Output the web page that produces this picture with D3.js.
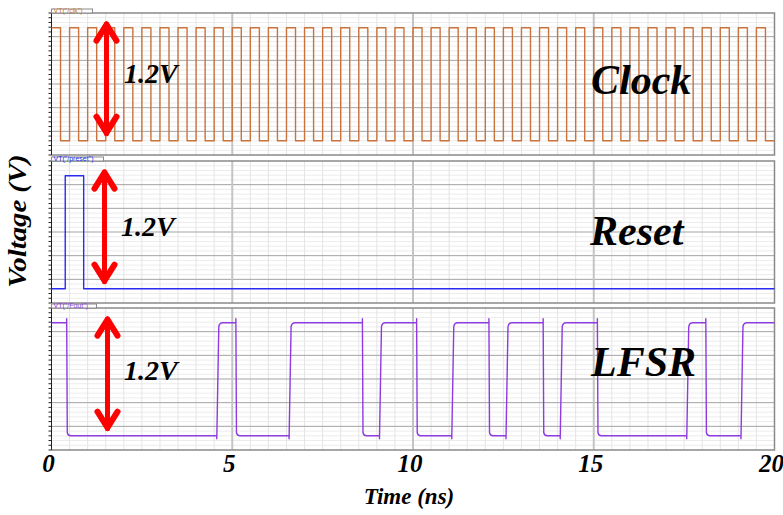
<!DOCTYPE html>
<html>
<head>
<meta charset="utf-8">
<script src="https://cdn.jsdelivr.net/npm/d3@7"></script>
<style>
  html, body { margin: 0; padding: 0; background: #fff; }
  svg { display: block; }
</style>
</head>
<body>
<svg id="chart" width="783" height="515"></svg>
<script>
// ---- data ----
const timeTicks = [0, 5, 10, 15, 20];
const timeDomain = [0, 20];

// clock: step points (ns, V) — 0.5 ns period, 40 cycles
const clockTimes = [0, 0.25, 0.5, 0.75, 1, 1.25, 1.5, 1.75, 2, 2.25, 2.5, 2.75, 3, 3.25, 3.5, 3.75,
  4, 4.25, 4.5, 4.75, 5, 5.25, 5.5, 5.75, 6, 6.25, 6.5, 6.75, 7, 7.25, 7.5, 7.75,
  8, 8.25, 8.5, 8.75, 9, 9.25, 9.5, 9.75, 10, 10.25, 10.5, 10.75, 11, 11.25, 11.5, 11.75,
  12, 12.25, 12.5, 12.75, 13, 13.25, 13.5, 13.75, 14, 14.25, 14.5, 14.75, 15, 15.25, 15.5, 15.75,
  16, 16.25, 16.5, 16.75, 17, 17.25, 17.5, 17.75, 18, 18.25, 18.5, 18.75, 19, 19.25, 19.5, 19.75, 20];
const clockVolts = [1.2, 0, 1.2, 0, 1.2, 0, 1.2, 0, 1.2, 0, 1.2, 0, 1.2, 0, 1.2, 0,
  1.2, 0, 1.2, 0, 1.2, 0, 1.2, 0, 1.2, 0, 1.2, 0, 1.2, 0, 1.2, 0,
  1.2, 0, 1.2, 0, 1.2, 0, 1.2, 0, 1.2, 0, 1.2, 0, 1.2, 0, 1.2, 0,
  1.2, 0, 1.2, 0, 1.2, 0, 1.2, 0, 1.2, 0, 1.2, 0, 1.2, 0, 1.2, 0,
  1.2, 0, 1.2, 0, 1.2, 0, 1.2, 0, 1.2, 0, 1.2, 0, 1.2, 0, 1.2, 0, 0];

// reset pulse
const resetTimes = [0, 0.38, 0.89, 20];
const resetVolts = [0, 1.2, 0, 0];

// LFSR output
const lfsrTimes = [0, 0.42, 4.6, 5.1, 6.6, 8.6, 9.1, 10.1, 11.1, 12.1, 12.6, 13.6, 14.1, 15.1, 17.6, 18.1, 19.1, 20];
const lfsrVolts = [1.2, 0, 1.2, 0, 1.2, 0, 1.2, 0, 1.2, 0, 1.2, 0, 1.2, 0, 1.2, 0, 1.2, 1.2];

const panels = [
  { name: "Clock", tab: 'VT("/clk")', color: "#c9733d", times: clockTimes, volts: clockVolts, top: 13, bottom: 155, tabW: 41,
    arrowX: 106.5, labelX: 124, labelY: 82.5, nameX: 591, nameY: 94 },
  { name: "Reset", tab: 'VT("/preset")', color: "#2b2bf2", times: resetTimes, volts: resetVolts, top: 161, bottom: 303, tabW: 52,
    arrowX: 104.5, labelX: 121, labelY: 236, nameX: 590, nameY: 245 },
  { name: "LFSR", tab: 'VT("/Fout")', color: "#8e3be0", times: lfsrTimes, volts: lfsrVolts, top: 308, bottom: 450, tabW: 45,
    arrowX: 107.5, labelX: 124, labelY: 380, nameX: 591, nameY: 376 }
];

const vDomain = [-0.152, 1.356];
const serif = "'Liberation Serif', 'Times New Roman', serif";

const svg = d3.select("#chart");
const x = d3.scaleLinear().domain(timeDomain).range([51.5, 774.5]);

panels.forEach((p, pi) => {
  const y = d3.scaleLinear().domain(vDomain).range([p.bottom, p.top]);
  const g = svg.append("g");

  // horizontal grid: 6 major divisions, 5 minor per major
  const span = vDomain[1] - vDomain[0];
  const hMinor = d3.range(1, 30).map(i => vDomain[0] + i * span / 30);
  g.selectAll("line.hminor").data(hMinor.filter((d, i) => (i + 1) % 5 !== 0)).join("line")
    .attr("x1", x(0)).attr("x2", x(20)).attr("y1", d => y(d)).attr("y2", d => y(d))
    .attr("stroke", "#ececec").attr("stroke-width", 1);

  // vertical grid: every 0.5 ns, heavier every 5 ns
  const vMinor = d3.range(1, 40).map(i => i * 0.5).filter(t => t % 5 !== 0);
  g.selectAll("line.vminor").data(vMinor).join("line")
    .attr("x1", d => x(d)).attr("x2", d => x(d)).attr("y1", p.top).attr("y2", p.bottom)
    .attr("stroke", "#e4e4e4").attr("stroke-width", 1);

  g.selectAll("line.hmajor").data(hMinor.filter((d, i) => (i + 1) % 5 === 0)).join("line")
    .attr("x1", x(0)).attr("x2", x(20)).attr("y1", d => y(d)).attr("y2", d => y(d))
    .attr("stroke", "#a3a3a3").attr("stroke-width", 1);

  g.selectAll("line.vmajor").data([5, 10, 15]).join("line")
    .attr("x1", d => x(d)).attr("x2", d => x(d)).attr("y1", p.top).attr("y2", p.bottom)
    .attr("stroke", "#c4c4c4").attr("stroke-width", 2);

  // frame
  g.append("path")
    .attr("d", `M${x(0)},${p.top}H${x(20)}V${p.bottom}H${x(0)}`)
    .attr("fill", "none").attr("stroke", "#8a8a8a").attr("stroke-width", 1.5);

  // left axis with small ticks
  g.append("line").attr("x1", x(0)).attr("x2", x(0)).attr("y1", p.top).attr("y2", p.bottom)
    .attr("stroke", "#222").attr("stroke-width", 1);
  const tickVals = d3.range(0, 31).map(i => vDomain[0] + i * span / 30);
  g.selectAll("line.ytick").data(tickVals).join("line")
    .attr("x1", x(0) - 3).attr("x2", x(0)).attr("y1", d => y(d)).attr("y2", d => y(d))
    .attr("stroke", "#222").attr("stroke-width", 1);

  // waveform
  let d;
  if (p.name === "LFSR") {
    // digital output with overshoot on falling edges and rounded settling
    const pts = p.times.map((t, i) => [x(t), y(p.volts[i])]);
    d = `M${pts[0][0]},${pts[0][1]}`;
    for (let i = 1; i < pts.length; i++) {
      const [px, py] = pts[i];
      const prevY = pts[i - 1][1];
      if (py === prevY) { d += `H${px}`; continue; }
      if (py > prevY) { // falling
        d += `H${px}V${prevY - 4}L${px + 0.6},${py - 3}Q${px + 1},${py} ${px + 4},${py}`;
      } else { // rising
        d += `H${px - 1}V${prevY + 3}L${px + 1},${py + 4}Q${px + 1.6},${py} ${px + 5},${py}`;
      }
    }
  } else {
    const line = d3.line().x((t, i) => x(t)).y((t, i) => y(p.volts[i])).curve(d3.curveStepAfter);
    d = line(p.times);
  }
  g.append("path").attr("d", d).attr("fill", "none")
    .attr("stroke", p.color).attr("stroke-width", 1.4).attr("stroke-linejoin", "round");

  // trace tab
  const tab = g.append("g");
  tab.append("rect").attr("x", x(0)).attr("y", p.top - 4).attr("width", p.tabW).attr("height", 4)
    .attr("fill", "#fff").attr("stroke", "#8a8a8a").attr("stroke-width", 1);
  tab.append("text").attr("x", x(0) + 2).attr("y", p.top - 0.5)
    .attr("font-family", "'Liberation Sans', Arial, sans-serif").attr("font-size", 7)
    .attr("fill", p.color).text(p.tab);

  // 1.2 V swing arrow
  const ah = svg.append("g").attr("stroke", "#ff0000").attr("fill", "none")
    .attr("stroke-linecap", "round").attr("stroke-linejoin", "round");
  const yt = y(1.2) - 6, yb = y(0) - 5;
  ah.append("line").attr("x1", p.arrowX).attr("x2", p.arrowX).attr("y1", yt + 2).attr("y2", yb - 2).attr("stroke-width", 5);
  ah.append("path").attr("stroke-width", 6)
    .attr("d", `M${p.arrowX - 10},${yt + 19}L${p.arrowX},${yt + 3}L${p.arrowX + 10},${yt + 19}`);
  ah.append("path").attr("stroke-width", 6)
    .attr("d", `M${p.arrowX - 10},${yb - 19}L${p.arrowX},${yb - 3}L${p.arrowX + 10},${yb - 19}`);

  svg.append("text").attr("x", p.labelX).attr("y", p.labelY)
    .attr("font-family", serif).attr("font-weight", "bold").attr("font-style", "italic")
    .attr("font-size", 28).attr("fill", "#000").text("1.2V");

  svg.append("text").attr("x", p.nameX).attr("y", p.nameY)
    .attr("font-family", serif).attr("font-weight", "bold").attr("font-style", "italic")
    .attr("font-size", 42).attr("fill", "#000").text(p.name);
});

// time axis labels
svg.selectAll("text.xtick").data(timeTicks).join("text")
  .attr("x", d => x(d) - 3).attr("y", 472)
  .attr("text-anchor", "middle")
  .attr("font-family", serif).attr("font-weight", "bold").attr("font-style", "italic")
  .attr("font-size", 25).attr("fill", "#000").text(d => d);

svg.append("text").attr("x", 409).attr("y", 504).attr("text-anchor", "middle")
  .attr("font-family", serif).attr("font-weight", "bold").attr("font-style", "italic")
  .attr("font-size", 23).attr("fill", "#000").text("Time (ns)");

svg.append("text").attr("transform", "translate(26,221) rotate(-90) scale(1.15,1)").attr("text-anchor", "middle")
  .attr("font-family", serif).attr("font-weight", "bold").attr("font-style", "italic")
  .attr("font-size", 25).attr("fill", "#000").text("Voltage (V)");
</script>
</body>
</html>
